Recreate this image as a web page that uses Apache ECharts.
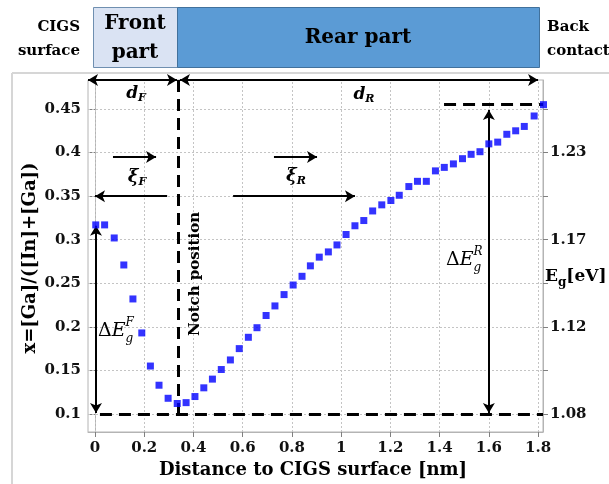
<!DOCTYPE html>
<html><head><meta charset="utf-8">
<script src="https://cdn.jsdelivr.net/npm/echarts@6/dist/echarts.min.js"></script>
<style>html,body{margin:0;padding:0;background:#fff}#c{width:609px;height:484px}</style>
</head><body><div id="c"></div>
<script>
// ---------- data ----------
const distance = [0.003,0.039,0.078,0.117,0.154,0.190,0.225,0.260,0.297,0.334,0.370,0.406,0.442,0.477,0.513,0.550,0.586,0.623,0.658,0.695,0.731,0.768,0.805,0.841,0.875,0.911,0.948,0.983,1.020,1.056,1.092,1.128,1.165,1.202,1.236,1.275,1.310,1.346,1.383,1.419,1.456,1.493,1.528,1.564,1.600,1.636,1.673,1.709,1.744,1.784,1.822];
const gaRatio = [0.317,0.317,0.302,0.271,0.232,0.193,0.155,0.133,0.118,0.112,0.113,0.120,0.130,0.140,0.151,0.162,0.175,0.188,0.199,0.213,0.224,0.237,0.248,0.258,0.270,0.280,0.286,0.294,0.306,0.316,0.322,0.333,0.340,0.345,0.351,0.361,0.367,0.367,0.379,0.383,0.387,0.393,0.398,0.401,0.410,0.412,0.421,0.425,0.430,0.442,0.455];
const xTicks = [0,0.2,0.4,0.6,0.8,1,1.2,1.4,1.6,1.8];
const yTicks = [0.1,0.15,0.2,0.25,0.3,0.35,0.4,0.45];
const egTickPos = [0.1,0.2,0.3,0.4];
const egLabels = ['1.08','1.12','1.17','1.23'];
const xRange = [-0.0285, 1.82];
const yRange = [0.0793, 0.4833];
const notchX = 0.34;
const gaMin = 0.1;
const gaMax = 0.4557;

// ---------- helpers ----------
const SERIF = "'DejaVu Serif', serif";
const chart = echarts.init(document.getElementById('c'), null, {renderer: 'canvas'});
const mctx = document.createElement('canvas').getContext('2d');
function tw(text, font){ mctx.font = font; return mctx.measureText(text).width; }

function seq(cx, cy, tokens, anchor){
  let total = 0;
  tokens.forEach(t => { if(!t.stay) total += tw(t.text, t.font); });
  let cur = anchor === 'left' ? cx : cx - total/2;
  const els = [];
  tokens.forEach(t => {
    els.push({type:'text', x: cur, y: cy + (t.dy||0), z: 50,
      style:{text: t.text, font: t.font, fill:'#000', textAlign:'left', textVerticalAlign:'middle'}});
    if(!t.stay) cur += tw(t.text, t.font);
  });
  return els;
}
function txt(x, y, text, font, align, rot){
  return {type:'text', x, y, rotation: rot||0, z: 50,
    style:{text, font, fill:'#000', textAlign: align||'center', textVerticalAlign:'middle'}};
}

const axisFont = {fontFamily: SERIF, fontWeight:'bold', fontSize: 15, color:'#111'};

function arrow(p1, p2, s1, s2){
  return [{coord: p1, symbol: s1 ? 'arrow' : 'none'}, {coord: p2, symbol: s2 ? 'arrow' : 'none'}];
}

const option = {
  animation: false,
  backgroundColor: '#fff',
  grid: {left: 88, right: 66, top: 80, bottom: 52, show: true, borderColor: '#b4b4b4', borderWidth: 1},
  xAxis: {
    type: 'value', min: xRange[0], max: xRange[1],
    axisLine: {show: true, lineStyle: {color: '#b4b4b4'}},
    axisTick: {show: true, customValues: xTicks, length: 5, lineStyle: {color: '#808080'}},
    axisLabel: Object.assign({customValues: xTicks, margin: 9, formatter: v => String(+v.toFixed(2))}, axisFont),
    splitLine: {show: false}
  },
  yAxis: [{
    type: 'value', min: yRange[0], max: yRange[1], position: 'left',
    axisLine: {show: true, lineStyle: {color: '#b4b4b4'}},
    axisTick: {show: true, customValues: yTicks, length: 5, lineStyle: {color: '#808080'}},
    axisLabel: Object.assign({customValues: yTicks, margin: 7, formatter: v => String(+v.toFixed(2))}, axisFont),
    splitLine: {show: false}
  },{
    type: 'value', min: yRange[0], max: yRange[1], position: 'right',
    axisLine: {show: true, lineStyle: {color: '#b4b4b4'}},
    axisTick: {show: true, customValues: yTicks, length: 5, lineStyle: {color: '#808080'}},
    axisLabel: Object.assign({customValues: egTickPos, margin: 7,
      formatter: v => { const i = egTickPos.findIndex(p => Math.abs(p - v) < 1e-6); return i >= 0 ? egLabels[i] : ''; }}, axisFont),
    splitLine: {show: false}
  }],
  series: [
    { // grid lines
      type: 'scatter', z: 1, clip: false, symbolSize: 0, silent: true,
      data: [[distance[0], gaRatio[0]]],
      markLine: {silent: true, symbol: 'none', animation: false, label: {show: false},
        lineStyle: {color: '#c4c4c4', type: [2, 2], width: 1},
        data: [...xTicks.map(v => ({xAxis: v})), ...yTicks.map(v => ({yAxis: v}))]}
    },
    { // dashed reference lines
      type: 'scatter', z: 3, clip: false, symbolSize: 0, silent: true,
      data: [[distance[0], gaRatio[0]]],
      markLine: {silent: true, symbol: 'none', animation: false, label: {show: false},
        lineStyle: {color: '#000', type: [12, 7], width: 3},
        data: [
          [{coord: [notchX, yRange[1]]}, {coord: [notchX, gaMin]}],
          [{coord: [0.02, gaMin]}, {coord: [xRange[1], gaMin]}],
          [{coord: [1.418, gaMax]}, {coord: [xRange[1], gaMax]}]
        ]}
    },
    { // arrows
      type: 'scatter', z: 4, clip: false, symbolSize: 0, silent: true,
      data: [[distance[0], gaRatio[0]]],
      markLine: {silent: true, animation: false, label: {show: false}, symbolSize: [9, 10],
        lineStyle: {color: '#000', type: 'solid', width: 2},
        data: [
          arrow([xRange[0], yRange[1]], [0.333, yRange[1]], true, true),
          arrow([0.345, yRange[1]], [1.8, yRange[1]], true, true),
          arrow([0.073, 0.395], [0.248, 0.395], false, true),
          arrow([0.293, 0.35], [0.0, 0.35], false, true),
          arrow([0.727, 0.395], [0.902, 0.395], false, true),
          arrow([0.561, 0.35], [1.056, 0.35], false, true),
          arrow([0.004, 0.316], [0.004, 0.101], true, true),
          arrow([1.6, 0.449], [1.6, 0.101], true, true)
        ]}
    },
    {
      type: 'scatter', z: 5, clip: false, symbol: 'rect', symbolSize: 7,
      itemStyle: {color: '#0000ff'},
      data: distance.map((x, i) => [x, gaRatio[i]])
    }
  ]
};
chart.setOption(option);

// ---------- annotations ----------
const B15 = 'bold 15px ' + SERIF;
const B20 = 'bold 20px ' + SERIF;
const B18 = 'bold 18px ' + SERIF;
const IB17 = 'italic bold 17px ' + SERIF;
const IB11 = 'italic bold 11px ' + SERIF;
const I19 = 'italic 19px ' + SERIF;
const R19 = '19px ' + SERIF;
const I12 = 'italic 12px ' + SERIF;

const graphics = [
  {type:'line', shape:{x1:12, y1:73, x2:609, y2:73}, style:{stroke:'#d6d6d6', lineWidth:2}, z: 0},
  {type:'line', shape:{x1:12, y1:73, x2:12, y2:484}, style:{stroke:'#d6d6d6', lineWidth:2}, z: 0},
  {type:'rect', shape:{x:93.5, y:7.5, width:84, height:60}, style:{fill:'#dae3f3', stroke:'#6f8fb0', lineWidth:1}, z: 1},
  {type:'rect', shape:{x:177.5, y:7.5, width:362, height:60}, style:{fill:'#5b9bd5', stroke:'#41719c', lineWidth:1}, z: 1},
  txt(80, 27, 'CIGS', B15, 'right'),
  txt(80, 51, 'surface', B15, 'right'),
  txt(135, 24, 'Front', B20),
  txt(135, 53, 'part', B20),
  txt(358, 38, 'Rear part', B20),
  txt(547, 27, 'Back', B15, 'left'),
  txt(547, 51, 'contact', B15, 'left'),
  txt(313, 470, 'Distance to CIGS surface [nm]', B18),
  txt(30, 258, 'x=[Ga]/([In]+[Ga])', B18, 'center', Math.PI/2),
  txt(195, 274, 'Notch position', B15, 'center', Math.PI/2),
  ...seq(545, 277, [{text:'E', font:'bold 17px ' + SERIF}, {text:'g', font:'bold 12px ' + SERIF, dy:6}, {text:'[eV]', font:'bold 17px ' + SERIF}], 'left'),
  ...seq(136, 94, [{text:'d', font:IB17}, {text:'F', font:IB11, dy:4}]),
  ...seq(364, 95, [{text:'d', font:IB17}, {text:'R', font:IB11, dy:4}]),
  ...seq(137, 177, [{text:'ξ', font:'italic bold 18px ' + SERIF}, {text:'F', font:IB11, dy:5}]),
  ...seq(296, 176, [{text:'ξ', font:'italic bold 18px ' + SERIF}, {text:'R', font:IB11, dy:5}]),
  ...seq(98, 331, [{text:'Δ', font:R19}, {text:'E', font:I19}, {text:'F', font:I12, dy:-8, stay:true}, {text:'g', font:I12, dy:8}], 'left'),
  ...seq(446, 260, [{text:'Δ', font:R19}, {text:'E', font:I19}, {text:'R', font:I12, dy:-8, stay:true}, {text:'g', font:I12, dy:8}], 'left')
];
chart.setOption({graphic: graphics});
</script>
</body></html>
